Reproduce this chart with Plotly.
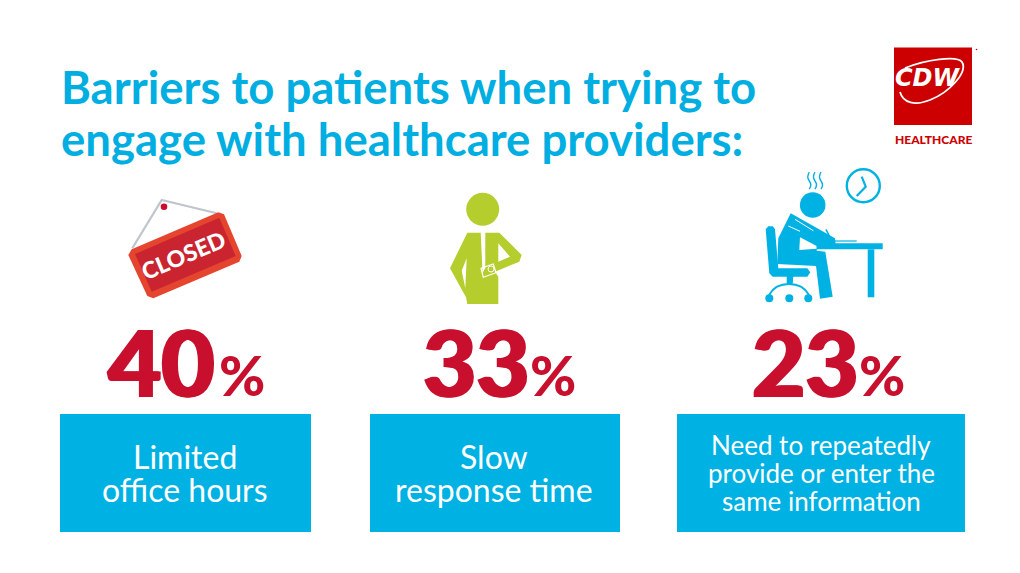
import plotly.graph_objects as go

# values from the picture
title_lines = ["Barriers to patients when trying to", "engage with healthcare providers:"]
percents = [40, 33, 23]
barrier_labels = [
    ["Limited", "office hours"],
    ["Slow", "response time"],
    ["Need to repeatedly", "provide or enter the", "same information"],
]

BLUE = "#00B2E3"
TITLE_BLUE = "#00AEE1"
RED = "#C8102E"
GREEN = "#B5CE2E"
FONT = "Lato"

# panel geometry in page pixels
box_left = [60, 370, 677]
box_right = [311, 620, 965]
text_center = [185, 494, 821]
num_right = [217, 532, 861]
pct_left = [216.5, 528, 857]
box_top, box_bottom = 414, 532


def poly(points, ox=0, oy=0, scale=1.0, close=True):
    parts = [f"{ox + x * scale:.1f},{oy + y * scale:.1f}" for x, y in points]
    return "M" + " L".join(parts) + (" Z" if close else "")


def fill_shape(path, color):
    return dict(type="path", path=path, fillcolor=color, line=dict(width=0), layer="above")


def line_shape(path, color, width):
    return dict(type="path", path=path, line=dict(color=color, width=width), layer="above")


def circle(cx, cy, r, color, outline=None, width=0):
    return dict(type="circle", x0=cx - r, x1=cx + r, y0=cy - r, y1=cy + r,
                fillcolor=color if outline is None else "rgba(0,0,0,0)",
                line=dict(width=width, color=outline or color), layer="above")


shapes = []
annotations = []

for left, right in zip(box_left, box_right):
    shapes.append(dict(type="rect", x0=left, x1=right, y0=box_top, y1=box_bottom,
                       fillcolor=BLUE, line=dict(width=0), layer="below"))

# closed sign
S = dict(ox=100, oy=180, scale=1 / 3)
shapes.append(line_shape(poly([(97, 205), (185, 60), (350, 100)], close=False, **S), "#BEC5CC", 2.2))
shapes.append(circle(164, 206.7, 3.3, RED))
shapes.append(fill_shape(poly([(85, 225), (95, 208), (355, 97), (372, 103), (425, 228), (418, 245),
                               (160, 355), (142, 348)], **S), "#E5452F"))
shapes.append(fill_shape(poly([(105, 222), (358, 113), (407, 228), (155, 335)], **S), "#CB2431"))

# green man
G = dict(ox=430, oy=180, scale=1 / 3)
shapes.append(circle(482.7, 209.3, 16.5, GREEN))
shapes.append(fill_shape(poly([(112, 158), (152, 158), (157, 262), (155, 372), (112, 372), (108, 352),
                               (60, 265)], **G), GREEN))
shapes.append(fill_shape(poly([(166, 158), (208, 158), (275, 225), (268, 245), (195, 275), (205, 290),
                               (205, 372), (150, 372), (150, 290), (166, 265)], **G), GREEN))
shapes.append(fill_shape(poly([(205, 190), (240, 230), (205, 245)], **G), "white"))
shapes.append(fill_shape(poly([(110, 235), (95, 272), (106, 325)], **G), "white"))
shapes.append(line_shape(poly([(153, 265), (190, 252), (198, 278), (160, 292)], **G), "white", 1.2))
shapes.append(circle(491, 269, 3, "white", outline="white", width=1))

# person at desk
D = dict(ox=750, oy=160, scale=1 / 3)
shapes.append(circle(812.7, 205, 12.8, BLUE))
shapes.append(circle(863.3, 185.7, 16.5, BLUE, outline=BLUE, width=2.4))
shapes.append(line_shape(poly([(335, 50), (347, 80), (320, 108)], close=False, **D), BLUE, 2.2))
for x in [178, 195, 213]:
    sx = 750 + x / 3
    shapes.append(line_shape(f"M{sx:.1f},172 Q{sx - 3:.1f},177 {sx:.1f},181 Q{sx + 3:.1f},185 {sx:.1f},189",
                             BLUE, 1.4))
shapes.append(fill_shape(poly([(122, 160), (255, 235), (258, 262), (200, 268), (200, 272), (226, 275),
                               (248, 410), (210, 416), (198, 318), (82, 312), (85, 235)], **D), BLUE))
shapes.append(fill_shape(poly([(150, 232), (200, 258), (200, 266), (148, 270)], **D), "white"))
shapes.append(line_shape(poly([(135, 178), (190, 212)], close=False, **D), "white", 1))
shapes.append(line_shape(poly([(115, 198), (150, 214)], close=False, **D), "white", 1))
shapes.append(fill_shape(poly([(200, 250), (398, 250), (398, 268), (200, 268)], **D), BLUE))
shapes.append(fill_shape(poly([(353, 268), (373, 268), (373, 412), (353, 412)], **D), BLUE))
shapes.append(line_shape(poly([(255, 243), (320, 243)], close=False, **D), BLUE, 1.2))
shapes.append(line_shape(poly([(228, 208), (240, 232)], close=False, **D), BLUE, 1.6))
shapes.append(fill_shape(poly([(47, 208), (55, 199), (68, 199), (75, 208), (85, 325), (172, 325), (181, 337),
                               (172, 350), (130, 350), (128, 372), (110, 372), (110, 350), (68, 350),
                               (58, 340)], **D), BLUE))
shapes.append(line_shape("M769,295 Q775,284 789,284 Q803,284 809,295", BLUE, 2))
for cx in [769.3, 789.3, 808.3]:
    shapes.append(circle(cx, 298.3, 4, BLUE))

# logo
shapes.append(dict(type="rect", x0=894, x1=972, y0=47.5, y1=125, fillcolor="#CC0000",
                   line=dict(width=0), layer="above"))
shapes.append(line_shape("M900,92 C903,103 915,106 930,100 C950,92 968,72 962,62 C957,55 925,60 905,68",
                         "white", 1.8))
shapes.append(circle(976.5, 49.5, 0.8, "#CC0000"))


def add_text(x, y, text, size, color, xanchor="center", weight=400, angle=0, family=FONT, shadow=None):
    font = dict(family=family, size=size, color=color, weight=weight)
    if shadow:
        font["shadow"] = shadow
    annotations.append(dict(x=x, y=y, text=text, showarrow=False, xanchor=xanchor, yanchor="middle",
                            textangle=angle, font=font))


for line, y in zip(title_lines, [86, 138]):
    add_text(59, y, line, 45.5, TITLE_BLUE, xanchor="left", weight=700)

add_text(183, 255, "CLOSED", 23, "white", weight=900, angle=-23)
add_text(928, 78, "<i>CDW</i>", 24, "white", weight=700, family="DejaVu Sans")
add_text(933, 139, "HEALTHCARE", 12, "#CC0000", weight=900)

# the original numerals are heavier than Lato Black, a tight shadow thickens them
heavy = f"1.5px 0 0 {RED}, -1.5px 0 0 {RED}"
for value, n_right, p_left in zip(percents, num_right, pct_left):
    add_text(n_right, 361, str(value), 92, RED, xanchor="right", weight=900, shadow=heavy)
    add_text(p_left, 374, "%", 56, RED, xanchor="left", weight=900)

line_tops = {2: [456, 489], 3: [445, 473, 501]}
for lines, cx in zip(barrier_labels, text_center):
    size = 32 if len(lines) == 2 else 26
    for line, y in zip(lines, line_tops[len(lines)]):
        add_text(cx, y, line, size, "white", weight=400)

fig = go.Figure()
fig.update_layout(
    width=1020,
    height=573,
    margin=dict(l=0, r=0, t=0, b=0),
    paper_bgcolor="white",
    plot_bgcolor="white",
    showlegend=False,
    shapes=shapes,
    annotations=annotations,
)
fig.update_xaxes(range=[0, 1020], visible=False, fixedrange=True)
fig.update_yaxes(range=[573, 0], visible=False, fixedrange=True)
fig.write_html("out.html", config=dict(displayModeBar=False),
               post_script="document.body.style.margin = '0';")
